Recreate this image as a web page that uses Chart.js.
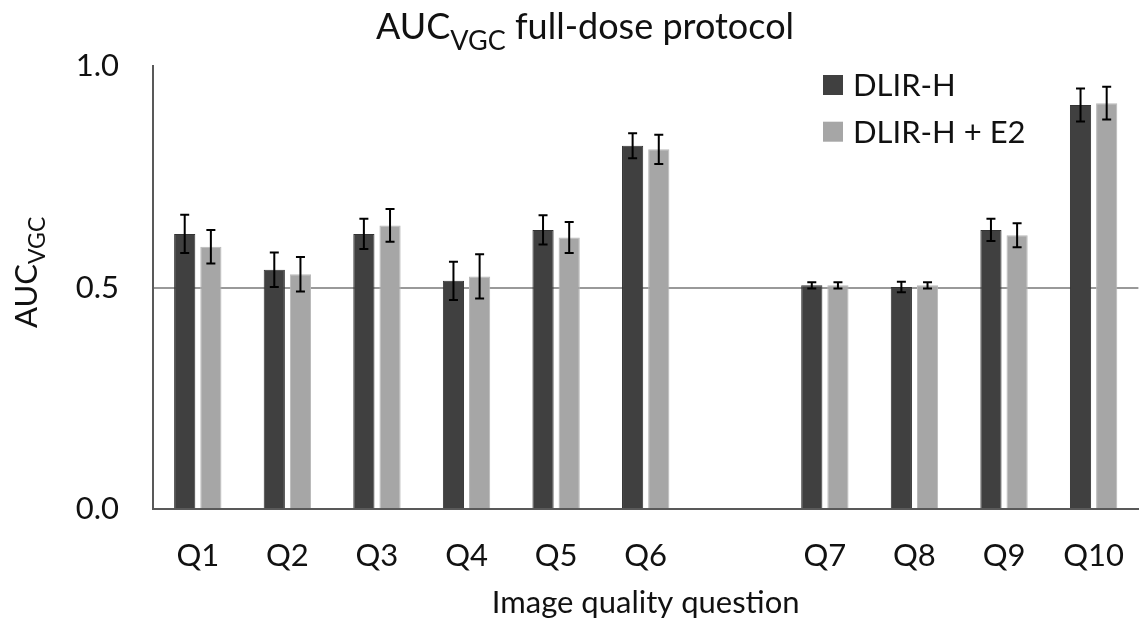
<!DOCTYPE html>
<html>
<head>
<meta charset="utf-8">
<script src="https://cdn.jsdelivr.net/npm/chart.js@4/dist/chart.umd.min.js"></script>
<style>
  html, body { margin: 0; padding: 0; background: #fff; overflow: hidden; }
  #wrap { width: 1152px; height: 622px; }
</style>
</head>
<body>
<div id="wrap"><canvas id="aucChart"></canvas></div>
<script>
// categories (empty slot between Q6 and Q7 as in the original)
const questions = ["Q1", "Q2", "Q3", "Q4", "Q5", "Q6", "", "Q7", "Q8", "Q9", "Q10"];
const dlirH      = [0.621, 0.540, 0.621, 0.515, 0.630, 0.820, null, 0.505, 0.501, 0.630, 0.912];
const dlirHErr   = [0.043, 0.039, 0.034, 0.043, 0.033, 0.028, null, 0.007, 0.012, 0.025, 0.037];
const dlirHE2    = [0.592, 0.530, 0.640, 0.525, 0.613, 0.812, null, 0.505, 0.505, 0.618, 0.916];
const dlirHE2Err = [0.038, 0.039, 0.037, 0.050, 0.035, 0.033, null, 0.007, 0.007, 0.027, 0.037];
const yTicks = [0, 0.5, 1.0];

const FONT = "Lato";
const TXT = "#111";

// error bars, drawn from the data through the y scale
const errorBars = {
    id: "errorBars",
    afterDatasetsDraw(chart) {
        const c = chart.ctx;
        const y = chart.scales.y;
        c.save();
        c.strokeStyle = "#000";
        c.lineWidth = 2;
        chart.data.datasets.forEach((ds, i) => {
            const meta = chart.getDatasetMeta(i);
            meta.data.forEach((bar, j) => {
                const v = ds.data[j], e = ds.errors[j];
                if (v == null || e == null) return;
                const top = y.getPixelForValue(v + e);
                const bot = y.getPixelForValue(v - e);
                c.beginPath();
                c.moveTo(bar.x, top); c.lineTo(bar.x, bot);
                c.moveTo(bar.x - 4.5, top); c.lineTo(bar.x + 4.5, top);
                c.moveTo(bar.x - 4.5, bot); c.lineTo(bar.x + 4.5, bot);
                c.stroke();
            });
        });
        c.restore();
    }
};

// title, y title (with subscripts) and legend
const extraText = {
    id: "extraText",
    afterDraw(chart) {
        const c = chart.ctx;
        c.save();
        c.fillStyle = TXT;
        c.textBaseline = "alphabetic";

        // title
        const tBig = "36px " + FONT, tSmall = "27px " + FONT;
        c.font = tBig;
        const wA = c.measureText("AUC").width;
        const wRest = c.measureText(" full-dose protocol").width;
        c.font = tSmall;
        const wS = c.measureText("VGC").width;
        let x = 585 - (wA + wS + wRest) / 2;
        c.font = tBig; c.fillText("AUC", x, 39); x += wA;
        c.font = tSmall; c.fillText("VGC", x, 50); x += wS;
        c.font = tBig; c.fillText(" full-dose protocol", x, 39);

        // y axis title
        const big = "31px " + FONT, small = "23px " + FONT;
        c.save();
        c.translate(37, 328);
        c.rotate(-Math.PI / 2);
        c.font = big; c.fillText("AUC", 0, 0);
        const w2 = c.measureText("AUC").width;
        c.font = small; c.fillText("VGC", w2, 8);
        c.restore();

        // legend
        c.font = big;
        c.textBaseline = "middle";
        chart.data.datasets.forEach((ds, i) => {
            const ly = 85 + i * 46.7;
            c.fillStyle = ds.backgroundColor;
            c.fillRect(823, ly - 10, 20, 20);
            c.fillStyle = TXT;
            c.fillText(ds.label, 853, ly + 1);
        });
        c.restore();
    }
};

new Chart(document.getElementById("aucChart"), {
    type: "bar",
    data: {
        labels: questions,
        datasets: [
            { label: "DLIR-H", data: dlirH, errors: dlirHErr,
              backgroundColor: "#404040", borderColor: "#333", borderWidth: 1 },
            { label: "DLIR-H + E2", data: dlirHE2, errors: dlirHE2Err,
              backgroundColor: "#a6a6a6", borderColor: "#b8b8b8", borderWidth: 1 }
        ]
    },
    options: {
        responsive: true,
        maintainAspectRatio: false,
        animation: false,
        layout: { padding: { top: 66, right: 0, bottom: 0, left: 0 } },
        datasets: { bar: { categoryPercentage: 0.584, barPercentage: 0.81 } },
        plugins: { legend: { display: false }, tooltip: { enabled: false } },
        scales: {
            x: {
                afterFit(scale) { scale.height = 113; },
                grid: { display: false, drawTicks: false },
                border: { display: true, color: "#595959", width: 2 },
                ticks: { color: TXT, font: { family: FONT, size: 31 }, padding: 28 },
                title: { display: true, text: "Image quality question", color: TXT,
                         font: { family: FONT, size: 31 }, padding: { top: 0, bottom: 0 } }
            },
            y: {
                min: 0, max: 1,
                afterBuildTicks(scale) { scale.ticks = yTicks.map(v => ({ value: v })); },
                afterFit(scale) { scale.width = 153; },
                grid: {
                    drawTicks: false,
                    lineWidth: 2,
                    color: (ctx) => ctx.tick && ctx.tick.value === 0.5 ? "#999" : "rgba(0,0,0,0)"
                },
                border: { display: true, color: "#595959", width: 2 },
                ticks: { color: TXT, font: { family: FONT, size: 31 }, padding: 34,
                         callback: (v) => Number(v).toFixed(1) }
            }
        }
    },
    plugins: [errorBars, extraText]
});
</script>
</body>
</html>
